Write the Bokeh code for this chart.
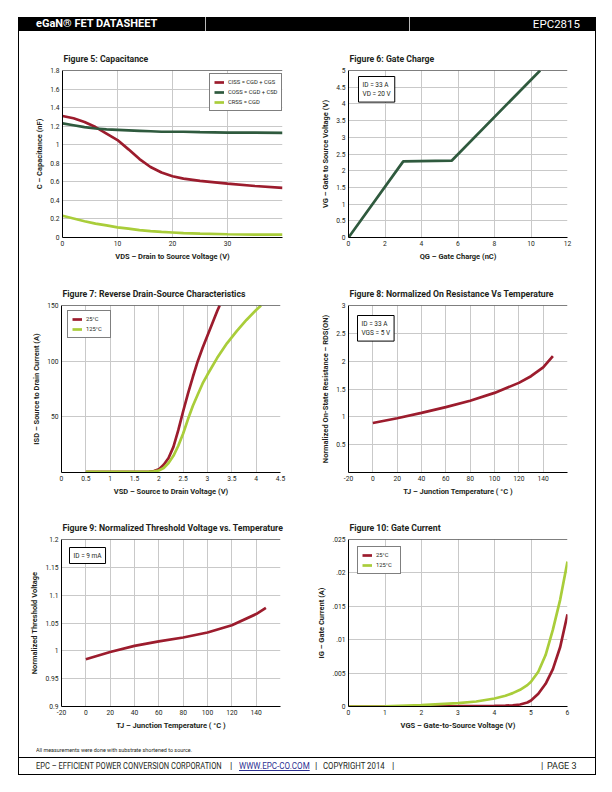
from bokeh.plotting import figure
from bokeh.models import (Range1d, FixedTicker, CustomJSTickFormatter, Span, Legend,
                          LegendItem, Label, Div)
from bokeh.layouts import column, row
from bokeh.embed import file_html
from bokeh.resources import INLINE

# ---------------- data ----------------
# Figure 5: Capacitance
cap_vds = [0, 2, 4, 6, 8, 10, 12, 14, 16, 18, 20, 22, 25, 30, 35, 40]
cap_ciss = [1.31, 1.285, 1.245, 1.19, 1.12, 1.05, 0.95, 0.845, 0.76, 0.70, 0.66, 0.635, 0.61, 0.58, 0.555, 0.535]
cap_coss = [1.23, 1.21, 1.19, 1.175, 1.165, 1.16, 1.155, 1.15, 1.145, 1.14, 1.14, 1.14, 1.135, 1.13, 1.13, 1.128]
cap_crss = [0.235, 0.205, 0.175, 0.15, 0.13, 0.11, 0.095, 0.08, 0.068, 0.06, 0.054, 0.048, 0.042, 0.035, 0.032, 0.03]
cap_labels = ["CISS = CGD + CGS", "COSS = CGD + CSD", "CRSS = CGD"]

# Figure 6: Gate charge
gc_qg = [0, 3.0, 5.65, 10.5]
gc_vgs = [0, 2.28, 2.30, 5.0]

# Figure 7: Reverse drain-source characteristics
rd_vsd_25 = [0.5, 1.0, 1.5, 1.8, 1.9, 2.0, 2.1, 2.2, 2.3, 2.4, 2.5, 2.6, 2.7, 2.8, 2.9, 3.0, 3.1, 3.2, 3.25]
rd_isd_25 = [0.5, 0.5, 0.5, 0.8, 1.3, 2.8, 7, 13, 23, 38, 55, 71, 86, 100, 112, 123, 134, 145, 150]
rd_vsd_125 = [0.5, 1.0, 1.5, 1.8, 1.9, 2.0, 2.1, 2.2, 2.3, 2.4, 2.5, 2.6, 2.7, 2.8, 2.9, 3.0, 3.2, 3.4, 3.6, 3.8, 4.0, 4.1]
rd_isd_125 = [0.5, 0.5, 0.5, 0.7, 1.0, 1.8, 4.0, 8.5, 15, 24, 35, 48, 60, 70, 80, 88, 103, 116, 127, 137, 146, 150]

# Figure 8: Normalized on resistance vs temperature
rds_tj = [0, 20, 40, 60, 80, 100, 120, 130, 140, 148]
rds_norm = [0.89, 0.975, 1.07, 1.175, 1.29, 1.43, 1.61, 1.73, 1.89, 2.09]

# Figure 9: Normalized threshold voltage vs temperature
vth_tj = [0, 20, 40, 60, 80, 100, 120, 140, 148]
vth_norm = [0.985, 0.998, 1.009, 1.017, 1.024, 1.033, 1.046, 1.066, 1.077]

# Figure 10: Gate current
ig_vgs = [0, 1, 2, 3, 3.5, 4, 4.3, 4.5, 4.7, 4.9, 5.0, 5.2, 5.4, 5.6, 5.8, 6.0]
ig_25 = [0, 0, 0.00002, 0.00005, 0.00007, 0.0001, 0.00013, 0.00018, 0.0003, 0.0006, 0.0009, 0.0019, 0.0034, 0.0056, 0.0089, 0.0138]
ig_125 = [0, 0.00002, 0.0002, 0.0005, 0.00075, 0.0012, 0.0016, 0.002, 0.0025, 0.0032, 0.0037, 0.0052, 0.0077, 0.0115, 0.016, 0.0217]

temp_labels = ["25°C", "125°C"]

# ---------------- style ----------------
FONT = "Roboto"
CSSFONT = "Roboto,'Liberation Sans',sans-serif"
RED = "#9c1c2d"
DKGREEN = "#2f5a3e"
LTGREEN = "#a9cd3a"
GRID = "#c9c9c9"
TXT = "#231f20"
FRAME_H = 167

NUMFMT = "return String(Math.round(tick*1000)/1000);"
DOTFMT = ("if (Math.abs(tick) < 1e-12) { return '0'; } "
          "return String(Math.round(tick*1000)/1000).replace(/^0\\./, '.');")


def chart(title, width, height, left, right, top, bottom, xr, yr, xticks, yticks,
          xlabel, ylabel, yfmt=NUMFMT):
    p = figure(width=width, height=height, x_range=Range1d(*xr), y_range=Range1d(*yr),
               output_backend="svg", toolbar_location=None,
               min_border_left=left, min_border_right=right,
               min_border_top=top, min_border_bottom=bottom)
    p.outline_line_color = None
    p.border_fill_color = "white"
    p.background_fill_color = "white"
    p.title.text = title
    p.title.text_font = FONT
    p.title.text_font_size = "8.7px"
    p.title.text_font_style = "bold"
    p.title.text_color = TXT
    p.title.align = "left"
    p.title.offset = 1
    p.title.standoff = 14
    p.xaxis.ticker = FixedTicker(ticks=xticks)
    p.yaxis.ticker = FixedTicker(ticks=yticks)
    p.xaxis.formatter = CustomJSTickFormatter(code=NUMFMT)
    p.yaxis.formatter = CustomJSTickFormatter(code=yfmt)
    p.xaxis.axis_label = xlabel
    p.yaxis.axis_label = ylabel
    for ax in (p.xaxis[0], p.yaxis[0]):
        ax.axis_line_color = "black"
        ax.axis_line_width = 1
        ax.major_tick_line_color = None
        ax.minor_tick_line_color = None
        ax.major_tick_out = 0
        ax.major_tick_in = 0
        ax.minor_tick_out = 0
        ax.minor_tick_in = 0
        ax.major_label_text_font = FONT
        ax.major_label_text_font_size = "6.7px"
        ax.major_label_text_color = TXT
        ax.major_label_standoff = 3
        ax.axis_label_text_font = FONT
        ax.axis_label_text_font_size = "7.5px"
        ax.axis_label_text_font_style = "bold"
        ax.axis_label_text_color = TXT
        ax.axis_label_standoff = 3
    p.grid.grid_line_color = GRID
    p.grid.grid_line_width = 1
    p.add_layout(Span(location=yr[1], dimension="width", line_color="black", line_width=1))
    return p


def legend(p, items, x, top):
    pad, lh, sp = 4, 8, 2
    n = len(items)
    h = 2 * pad + n * lh + (n - 1) * sp
    leg = Legend(items=[LegendItem(label=l, renderers=[r]) for l, r in items],
                 location=(x, FRAME_H - top - h), margin=0, padding=pad, spacing=sp,
                 label_height=lh, glyph_height=lh, glyph_width=10, label_standoff=4,
                 label_text_font=FONT, label_text_font_size="5.8px", label_text_color=TXT,
                 border_line_color="black", border_line_width=1,
                 background_fill_color="white", background_fill_alpha=1)
    p.add_layout(leg)


def note_box(p, text, x, top):
    p.add_layout(Label(x=x, y=FRAME_H - top, x_units="screen", y_units="screen", text=text,
                       text_font=FONT, text_font_size="6.5px", text_color=TXT,
                       text_align="left", text_baseline="top",
                       border_line_color="black", border_line_width=1,
                       background_fill_color="white", padding=4))


LW = 2.7

# Figure 5
f5 = chart("Figure 5: Capacitance", 286, 235, 43, 23, 39, 29, (0, 40), (0, 1.8),
           [0, 10, 20, 30], [0, 0.2, 0.4, 0.6, 0.8, 1.0, 1.2, 1.4, 1.6, 1.8],
           "VDS – Drain to Source Voltage (V)", "C – Capacitance (nF)")
r1 = f5.line(cap_vds, cap_ciss, line_color=RED, line_width=LW)
r2 = f5.line(cap_vds, cap_coss, line_color=DKGREEN, line_width=LW)
r3 = f5.line(cap_vds, cap_crss, line_color=LTGREEN, line_width=LW)
legend(f5, list(zip(cap_labels, [r1, r2, r3])), 147, 5)

# Figure 6
f6 = chart("Figure 6: Gate Charge", 290, 235, 43, 28, 39, 29, (0, 12), (0, 5),
           [0, 2, 4, 6, 8, 10, 12], [0, 0.5, 1, 1.5, 2, 2.5, 3, 3.5, 4, 4.5, 5],
           "QG – Gate Charge (nC)", "VG – Gate to Source Voltage (V)")
f6.line(gc_qg, gc_vgs, line_color=DKGREEN, line_width=LW)
note_box(f6, "ID = 33 A\nVD = 20 V", 10, 6)

# Figure 7
f7 = chart("Figure 7: Reverse Drain-Source Characteristics", 286, 234, 42, 25, 39, 28,
           (0, 4.5), (0, 150), [0, 0.5, 1, 1.5, 2, 2.5, 3, 3.5, 4, 4.5], [50, 100, 150],
           "VSD – Source to Drain Voltage (V)", "ISD – Source to Drain Current (A)")
g1 = f7.line(rd_vsd_25, rd_isd_25, line_color=RED, line_width=LW)
g2 = f7.line(rd_vsd_125, rd_isd_125, line_color=LTGREEN, line_width=LW)
legend(f7, list(zip(temp_labels, [g1, g2])), 6, 7)

# Figure 8
f8 = chart("Figure 8: Normalized On Resistance Vs Temperature", 290, 234, 43, 28, 39, 28,
           (-20, 160), (0, 3), [-20, 0, 20, 40, 60, 80, 100, 120, 140],
           [0.5, 1, 1.5, 2, 2.5, 3],
           "TJ – Junction Temperature ( °C )", "Normalized On-State Resistance – RDS(ON)")
f8.line(rds_tj, rds_norm, line_color=RED, line_width=LW)
note_box(f8, "ID = 33 A\nVGS = 5 V", 9, 10)

# Figure 9
f9 = chart("Figure 9: Normalized Threshold Voltage vs. Temperature", 286, 240, 42, 25, 39, 34,
           (-20, 160), (0.9, 1.2), [-20, 0, 20, 40, 60, 80, 100, 120, 140],
           [0.9, 0.95, 1.0, 1.05, 1.1, 1.15, 1.2],
           "TJ – Junction Temperature ( °C )", "Normalized Threshold Voltage")
f9.line(vth_tj, vth_norm, line_color=RED, line_width=LW)
note_box(f9, "ID = 9 mA", 8, 8)

# Figure 10
f10 = chart("Figure 10: Gate Current", 290, 240, 43, 28, 39, 34, (0, 6), (0, 0.025),
            [0, 1, 2, 3, 4, 5, 6], [0, 0.005, 0.01, 0.015, 0.02, 0.025],
            "VGS – Gate-to-Source Voltage (V)", "IG – Gate Current (A)", yfmt=DOTFMT)
h1 = f10.line(ig_vgs, ig_25, line_color=RED, line_width=LW)
h2 = f10.line(ig_vgs, ig_125, line_color=LTGREEN, line_width=LW)
legend(f10, list(zip(temp_labels, [h1, h2])), 9, 9)

# ---------------- page furniture ----------------
def span(left, txt, size, sx, top=0, lh=14, extra="", right=None):
    pos = f"left:{left}px;" if right is None else f"right:{right}px;"
    origin = "left" if right is None else "right"
    return (f'<span style="position:absolute;{pos}top:{top}px;font-size:{size}px;'
            f'line-height:{lh}px;white-space:nowrap;transform:scaleX({sx});'
            f'transform-origin:{origin} center;{extra}">{txt}</span>')

header_html = (
    f'<div style="position:relative;box-sizing:border-box;width:578px;height:14px;'
    f'background:#000;color:#fff;font-family:{CSSFONT};">'
    + span(18, "eGaN® FET DATASHEET", 11, 1.0, extra="font-weight:bold;")
    + '<span style="position:absolute;left:187px;top:0;width:1px;height:14px;background:#bbb;"></span>'
    + '<span style="position:absolute;left:391px;top:0;width:1px;height:14px;background:#bbb;"></span>'
    + span(0, "EPC2815", 11.5, 1.0, right=16)
    + '</div>'
)
header = Div(text=header_html, width=578, height=14, margin=(17, 0, 0, 18))

note_html = (
    f'<div style="position:relative;width:576px;height:17px;font-family:{CSSFONT};color:{TXT};">'
    + span(17, "All measurements were done with substrate shortened to source.", 6, 0.9,
           top=6, lh=7)
    + '</div>'
)
note = Div(text=note_html, width=576, height=17, margin=0)

FS = 9.5
footer_html = (
    f'<div style="position:relative;box-sizing:border-box;width:578px;height:18px;'
    f'border:1px solid #000;font-family:{CSSFONT};color:{TXT};">'
    + span(17, "EPC – EFFICIENT POWER CONVERSION CORPORATION", FS, 0.79, top=1, lh=14)
    + span(211, "|", FS, 1, top=1, lh=14)
    + span(220, "WWW.EPC-CO.COM", FS, 0.85, top=1, lh=14,
           extra="color:#2e3192;text-decoration:underline;")
    + span(296, "|", FS, 1, top=1, lh=14)
    + span(304, "COPYRIGHT 2014", FS, 0.82, top=1, lh=14)
    + span(373, "|", FS, 1, top=1, lh=14)
    + span(522, "|", FS, 1, top=1, lh=14)
    + span(528, "PAGE 3", FS, 0.95, top=1, lh=14)
    + '</div>'
)
footer = Div(text=footer_html, width=578, height=18, margin=(0, 0, 0, 18))

body = column(row(f5, f6), row(f7, f8), row(f9, f10), note, spacing=0,
              margin=(0, 0, 0, 18),
              styles={"border-left": "1px solid #000", "border-right": "1px solid #000"})

page = column(header, body, footer, spacing=0)

open("out.html", "w").write(file_html(page, INLINE))
